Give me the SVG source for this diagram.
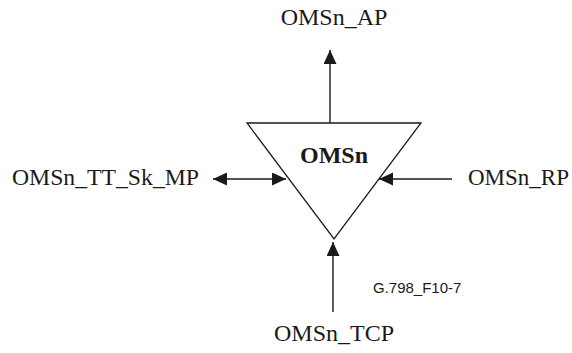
<svg xmlns="http://www.w3.org/2000/svg" width="572" height="353" viewBox="0 0 572 353">
<style>
.lbl{font-family:"Liberation Serif","Times New Roman",serif;font-size:24px;fill:#1a1a1a}
.ttl{font-family:"Liberation Serif","Times New Roman",serif;font-size:24px;font-weight:bold;fill:#1a1a1a}
.fig{font-family:"Liberation Sans",Arial,sans-serif;font-size:15px;fill:#1a1a1a}
.ln{stroke:#1a1a1a;stroke-width:1.4;fill:none}
</style>
<defs>
<marker id="ah" markerUnits="userSpaceOnUse" markerWidth="16" markerHeight="14" refX="14" refY="6.5" orient="auto-start-reverse">
<path d="M0,0 L14,6.5 L0,13 Z" fill="#1a1a1a"/>
</marker>
</defs>
<g id="node-omsn">
<polygon points="247,123 421,123 334,239" fill="#fff" stroke="#1a1a1a" stroke-width="1.3"/>
<text class="ttl" x="334" y="163" text-anchor="middle">OMSn</text>
</g>
<g id="node-ap"><text class="lbl" x="334" y="25" text-anchor="middle">OMSn_AP</text></g>
<g id="node-mp"><text class="lbl" x="12" y="185" textLength="187" lengthAdjust="spacingAndGlyphs">OMSn_TT_Sk_MP</text></g>
<g id="node-rp"><text class="lbl" x="468" y="185" textLength="101" lengthAdjust="spacingAndGlyphs">OMSn_RP</text></g>
<g id="node-tcp"><text class="lbl" x="334" y="341" text-anchor="middle">OMSn_TCP</text></g>
<g id="label-fig"><text class="fig" x="373" y="293">G.798_F10-7</text></g>
<g id="connectors">
<line class="ln" x1="330" y1="123" x2="330" y2="50" marker-end="url(#ah)"/>
<line class="ln" x1="213" y1="179" x2="286" y2="179" marker-start="url(#ah)" marker-end="url(#ah)"/>
<line class="ln" x1="452" y1="179" x2="379" y2="179" marker-end="url(#ah)"/>
<line class="ln" x1="333" y1="312" x2="333" y2="242" marker-end="url(#ah)"/>
</g>
</svg>
